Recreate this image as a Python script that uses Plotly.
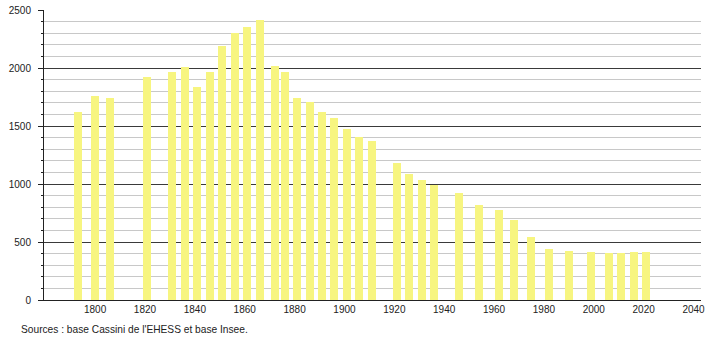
import plotly.graph_objects as go

years = [1793, 1800, 1806, 1821, 1831, 1836, 1841, 1846, 1851, 1856, 1861, 1866,
         1872, 1876, 1881, 1886, 1891, 1896, 1901, 1906, 1911, 1921, 1926, 1931,
         1936, 1946, 1954, 1962, 1968, 1975, 1982, 1990, 1999, 2006, 2011, 2016, 2021]
population = [1621, 1761, 1744, 1922, 1968, 2011, 1833, 1962, 2186, 2304, 2356, 2414,
              2017, 1968, 1744, 1707, 1623, 1566, 1477, 1402, 1371, 1181, 1086, 1037,
              988, 919, 822, 778, 692, 546, 442, 425, 416, 408, 408, 416, 416]
x_ticks = list(range(1800, 2041, 20))
y_ticks = [0, 500, 1000, 1500, 2000, 2500]
source_text = "Sources : base Cassini de l'EHESS et base Insee."

fig = go.Figure()
fig.add_trace(go.Bar(
    x=years, y=population, width=3.2,
    marker=dict(color="#F7F580", line=dict(width=0)),
    hoverinfo="x+y",
))

fig.update_layout(
    width=710, height=340,
    margin=dict(l=44, r=9, t=10, b=40),
    paper_bgcolor="white", plot_bgcolor="white",
    font=dict(family="Liberation Sans, Arial, sans-serif", size=10, color="#222"),
    showlegend=False,
    bargap=0,
    xaxis=dict(
        range=[1779.5, 2043], tickmode="array", tickvals=x_ticks,
        ticktext=[str(t) for t in x_ticks],
        showgrid=False, zeroline=False, automargin=False,
        showline=True, linecolor="#222", linewidth=1,
        ticks="", ticklen=0,
    ),
    yaxis=dict(
        range=[0, 2500], tickmode="array", tickvals=y_ticks,
        ticktext=[str(t) for t in y_ticks],
        showgrid=True, gridcolor="#3a3a3a", gridwidth=1,
        zeroline=False, automargin=False,
        showline=True, linecolor="#222", linewidth=1,
        ticks="outside", ticklen=5, tickcolor="#222",
        ticklabelstandoff=5,
        minor=dict(dtick=100, showgrid=True, gridcolor="#C8C8C8", gridwidth=1,
                   ticks="outside", ticklen=2, tickcolor="#222"),
    ),
    annotations=[dict(
        text=source_text, xref="paper", yref="paper",
        x=(19 - 44) / 657, y=-(329 - 300) / 290,
        xanchor="left", yanchor="middle", showarrow=False,
        font=dict(size=10.2, color="#222"),
    )],
)

fig.write_html("out.html")
